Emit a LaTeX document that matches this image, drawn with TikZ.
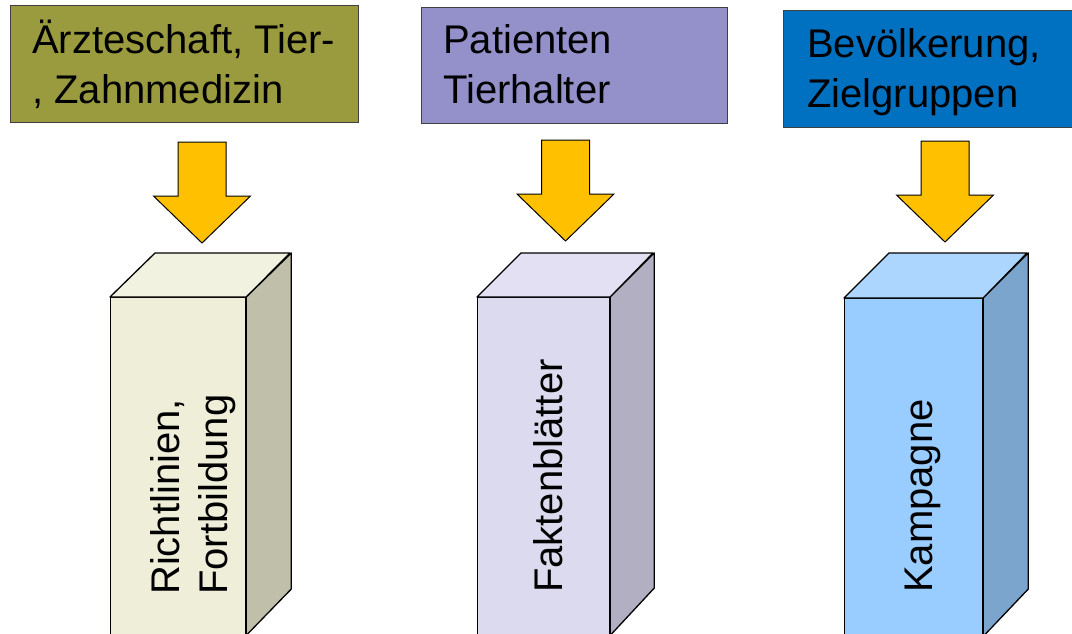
\documentclass[tikz,border=0pt]{standalone}
\usepackage{fontspec}
\setmainfont{Liberation Sans}
\definecolor{olivebox}{HTML}{9A9A3E}
\definecolor{lavbox}{HTML}{9490CA}
\definecolor{bluebox}{HTML}{0070C0}
\definecolor{arrowyellow}{HTML}{FFC000}
\definecolor{creamfront}{HTML}{EEEED9}
\definecolor{creamtop}{HTML}{F2F2E1}
\definecolor{creamside}{HTML}{C0C0AA}
\definecolor{lilacfront}{HTML}{DCDAEE}
\definecolor{lilactop}{HTML}{E2E0F2}
\definecolor{lilacside}{HTML}{B1AFC1}
\definecolor{skyfront}{HTML}{99CCFF}
\definecolor{skytop}{HTML}{ADD6FF}
\definecolor{skyside}{HTML}{7BA5CC}
\tikzset{
  group/.style={draw=black!75, line width=1pt, rectangle, inner sep=0pt, anchor=north west},
  % multi-line texts are anchored at the baseline of their last line
  grouptext/.style={align=left, anchor=base west, inner sep=0pt,
    font=\fontsize{40}{50}\selectfont},
  front/.style={draw=black, line width=1.3pt, rectangle, inner sep=0pt,
    minimum width=#1, minimum height=337pt, anchor=north west},
  face/.style={draw=black, line width=1.3pt, line join=round},
  boxtext/.style={rotate=90, align=left, anchor=base west, inner sep=0pt,
    font=\fontsize{40}{48}\selectfont},
  blockarrow/.style={draw=black, line width=1pt, fill=arrowyellow, line join=miter},
  downarrow/.pic={
    \path[blockarrow] (-24,0) -- (24,0) -- (24,54) -- (48.5,54) -- (0,101)
      -- (-48.5,54) -- (-24,54) -- cycle;
  }
}
\begin{document}
\begin{tikzpicture}[x=1pt, y=-1pt]
\useasboundingbox (0,0) rectangle (1072,633);

% audience boxes
\node[group, fill=olivebox, minimum width=348pt, minimum height=117pt] (g1) at (10,5) {};
\node[group, fill=lavbox, minimum width=306pt, minimum height=116pt] (g2) at (421,7) {};
\node[group, fill=bluebox, minimum width=292pt, minimum height=117pt] (g3) at (783,10) {};
\node[grouptext] (t1) at (32,103) {Ärzteschaft, Tier-\\, Zahnmedizin};
\node[grouptext] (t2) at (443,103) {Patienten\\Tierhalter};
\node[grouptext] (t3) at (807,107) {Bevölkerung,\\Zielgruppen};

% arrows
\pic (a1) at (202,142) {downarrow};
\pic (a2) at (565.5,140) {downarrow};
\pic (a3) at (945,141) {downarrow};

% cuboid 1
\node[front=135pt, fill=creamfront] (f1) at (110,297) {};
\path[face, fill=creamtop] (f1.north west) -- ++(45,-44) -- ++(135,0) -- (f1.north east) -- cycle;
\path[face, fill=creamside] (f1.north east) -- ++(45,-44) -- ++(0,336) -- (f1.south east) -- cycle;
\node[boxtext] (m1) at (227,595) {Richtlinien,\\Fortbildung};

% cuboid 2
\node[front=132pt, fill=lilacfront] (f2) at (477,297) {};
\path[face, fill=lilactop] (f2.north west) -- ++(44,-44) -- ++(132,0) -- (f2.north east) -- cycle;
\path[face, fill=lilacside] (f2.north east) -- ++(44,-44) -- ++(0,335) -- (f2.south east) -- cycle;
\node[boxtext] (m2) at (562,593) {Faktenblätter};

% cuboid 3
\node[front=138pt, fill=skyfront] (f3) at (844,298) {};
\path[face, fill=skytop] (f3.north west) -- ++(45,-45) -- ++(138,0) -- (f3.north east) -- cycle;
\path[face, fill=skyside] (f3.north east) -- ++(45,-45) -- ++(0,336) -- (f3.south east) -- cycle;
\node[boxtext] (m3) at (932,593) {Kampagne};
\end{tikzpicture}
\end{document}
